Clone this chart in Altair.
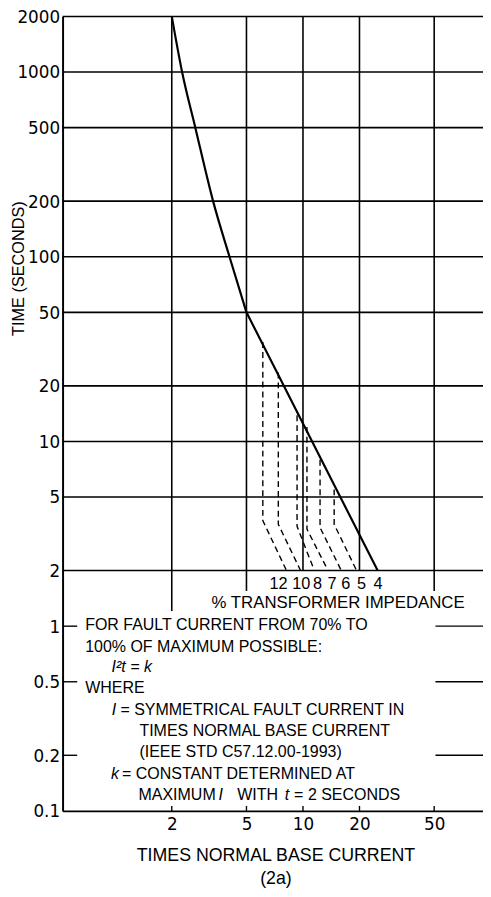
import altair as alt
import pandas as pd

# ---------------- data ----------------
# main damage curve (times normal base current, seconds)
upper_x = [2.0, 2.27, 2.67, 3.32, 4.06, 5.0]
upper_t = [2000, 1000, 500, 200, 100, 50]
lower_x = [5.0, 10.0, 25.0]
lower_t = [50, 12.5, 2.0]

# dashed 70%-100% fault current branches (one per % impedance 12,10,8,7,6,5)
dash_imp = ["12", "10", "8", "7", "6", "5"]
dash_x_start = [6.11, 7.39, 9.30, 10.5, 12.33, 14.66]
dash_t_top = [34.5, 23.6, 13.85, 11.99, 7.96, 5.50]
dash_t_bend = [3.73, 3.56, 3.47, 3.35, 3.42, 3.56]
dash_x_end = [8.17, 9.71, 11.5, 13.6, 16.0, 19.3]
dash_t_end = [2.0] * 6

# impedance labels
imp_labels = ["12", "10", "8", "7", "6", "5", "4"]
imp_x = [7.4, 9.8, 11.95, 14.3, 16.9, 20.5, 25.1]

# axis ticks / grid
y_ticks = [2000, 1000, 500, 200, 100, 50, 20, 10, 5, 2, 1, 0.5, 0.2, 0.1]
x_ticks = [2, 5, 10, 20, 50]
hgrid_t = [2000, 1000, 500, 200, 100, 50, 20, 10, 5, 2]
vgrid_x = [2, 5, 10, 20, 50]
vgrid_t_end = [1.21, 1.55, 2.0, 2.0, 1.55]
short_t = [1, 0.5, 0.2]

XMIN, XMAX = 0.524, 91
YMIN, YMAX = 0.1, 2000
W, H = 426, 805

xs = alt.Scale(type="log", domain=[XMIN, XMAX], nice=False)
ys = alt.Scale(type="log", domain=[YMIN, YMAX], nice=False)

y_axis = alt.Axis(
    values=y_ticks, format="~g", title="TIME (SECONDS)",
    titleAngle=-90, titleX=-45, titleY=255, titleAlign="center",
    titleBaseline="middle", titleFont="Liberation Sans", titleFontSize=16.5,
    titleFontWeight="normal", titleColor="black",
    labelFont="DejaVu Sans", labelFontSize=17, labelColor="black",
    labelPadding=3, labelOffset=1, tickSize=0, domainColor="black",
    domainWidth=2, grid=False, labelOverlap=False)

x_axis = alt.Axis(
    values=x_ticks, format="~g",
    title=["TIMES NORMAL BASE CURRENT", "(2a)"],
    titleX=215.7, titleY=36, titleAlign="center", titleBaseline="top",
    titleFont="Liberation Sans", titleFontSize=18, titleFontWeight="normal",
    titleLineHeight=24, titleColor="black",
    labelFont="DejaVu Sans", labelFontSize=17, labelColor="black",
    labelPadding=6, tickSize=0, domainColor="black", domainWidth=2,
    grid=False, labelFlush=False)


def X(f):
    return alt.X(f, scale=xs, axis=x_axis)


def Y(f):
    return alt.Y(f, scale=ys, axis=y_axis)


# ---------------- layers ----------------
hgrid = alt.Chart(pd.DataFrame({"t": hgrid_t})).mark_rule(
    color="black", strokeWidth=1.6
).encode(y=Y("t:Q"), x=alt.value(0), x2=alt.value(W))

vgrid = alt.Chart(pd.DataFrame({"x": vgrid_x, "t_end": vgrid_t_end})).mark_rule(
    color="black", strokeWidth=1.6
).encode(x=X("x:Q"), y=Y("t_end:Q"), y2=alt.datum(2000))

left_ticks = alt.Chart(pd.DataFrame({"t": short_t, "x1": [XMIN] * 3, "x2": [0.627] * 3})).mark_rule(
    color="black", strokeWidth=1.4
).encode(x=X("x1:Q"), x2="x2:Q", y=Y("t:Q"))

right_ticks = alt.Chart(pd.DataFrame({"t": short_t, "x1": [50.8] * 3, "x2": [XMAX] * 3})).mark_rule(
    color="black", strokeWidth=1.4
).encode(x=X("x1:Q"), x2="x2:Q", y=Y("t:Q"))

bottom_ticks = alt.Chart(pd.DataFrame({"x": x_ticks})).mark_rule(
    color="black", strokeWidth=1.4
).encode(x=X("x:Q"), y=alt.value(H), y2=alt.value(H - 5))

upper = alt.Chart(pd.DataFrame({"x": upper_x, "t": upper_t})).mark_line(
    color="black", strokeWidth=2.2, interpolate="monotone"
).encode(x=X("x:Q"), y=Y("t:Q"))

lower = alt.Chart(pd.DataFrame({"x": lower_x, "t": lower_t})).mark_line(
    color="black", strokeWidth=2.2
).encode(x=X("x:Q"), y=Y("t:Q"))

rows = []
for i, z in enumerate(dash_imp):
    rows.append({"z": z, "o": 0, "x": dash_x_start[i], "t": dash_t_top[i]})
    rows.append({"z": z, "o": 1, "x": dash_x_start[i], "t": dash_t_bend[i]})
    rows.append({"z": z, "o": 2, "x": dash_x_end[i], "t": dash_t_end[i]})
dashed = alt.Chart(pd.DataFrame(rows)).mark_line(
    color="black", strokeWidth=1.4, strokeDash=[6, 4]
).encode(x=X("x:Q"), y=Y("t:Q"), detail="z:N", order="o:Q")

imp = alt.Chart(pd.DataFrame({"x": imp_x, "t": [1.69] * 7, "s": imp_labels})).mark_text(
    font="Liberation Sans", fontSize=16.5, color="black", baseline="middle", align="center"
).encode(x=X("x:Q"), y=Y("t:Q"), text="s:N")

imp_title = alt.Chart(pd.DataFrame({"x": [15.39], "t": [1.338], "s": ["% TRANSFORMER  IMPEDANCE"]})).mark_text(
    font="Liberation Sans", fontSize=17, color="black", baseline="middle", align="center"
).encode(x=X("x:Q"), y=Y("t:Q"), text="s:N")

# note block (normal upright pieces)
note_txt = [
    "FOR FAULT CURRENT FROM 70% TO",
    "100% OF MAXIMUM POSSIBLE:",
    "WHERE",
    "= SYMMETRICAL FAULT CURRENT IN",
    "TIMES NORMAL BASE CURRENT",
    "(IEEE STD C57.12.00-1993)",
    "= CONSTANT DETERMINED AT",
    "MAXIMUM",
    "WITH",
    "= 2 SECONDS",
]
note_x = [0.691, 0.691, 0.691, 1.065, 1.345, 1.345, 1.086, 1.330, 4.46, 8.97]
note_t = [1.011, 0.774, 0.4615, 0.351, 0.2703, 0.2088, 0.1589, 0.1223, 0.1223, 0.1223]
# italic pieces
ital_txt = ["I²t = k", "I", "k", "I", "t"]
ital_x = [0.955, 0.958, 0.950, 3.55, 8.00]
ital_t = [0.601, 0.351, 0.1589, 0.1223, 0.1223]

note = alt.Chart(pd.DataFrame({"x": note_x, "t": note_t, "s": note_txt})).mark_text(
    font="Liberation Sans", fontSize=16.2, color="black", baseline="middle", align="left"
).encode(x=X("x:Q"), y=Y("t:Q"), text="s:N")

ital = alt.Chart(pd.DataFrame({"x": ital_x, "t": ital_t, "s": ital_txt})).mark_text(
    font="Liberation Sans", fontSize=16.2, fontStyle="italic", color="black",
    baseline="middle", align="left"
).encode(x=X("x:Q"), y=Y("t:Q"), text="s:N")

chart = alt.layer(
    hgrid, vgrid, left_ticks, right_ticks, bottom_ticks,
    upper, lower, dashed, imp, imp_title, note, ital,
).properties(
    width=W, height=H,
    autosize=alt.AutoSizeParams(type="none"),
    padding={"left": 55.3, "top": 2.7, "right": 0, "bottom": 73},
    background="white",
).configure_view(strokeWidth=0)

chart.save("out.html", embed_options={"renderer": "svg", "actions": False})
